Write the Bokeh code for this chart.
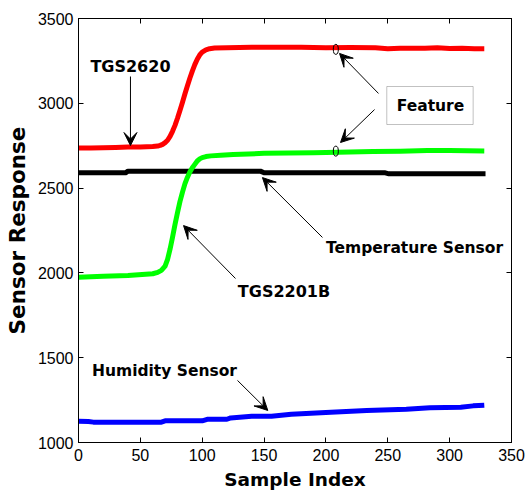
from bokeh.plotting import figure
from bokeh.models import Range1d, LinearAxis, Arrow, VeeHead, Label, BoxAnnotation, FixedTicker
from bokeh.embed import file_html
from bokeh.resources import INLINE

# ---------------- data ----------------
x_ticks = [0, 50, 100, 150, 200, 250, 300, 350]
y_ticks = [1000, 1500, 2000, 2500, 3000, 3500]

red_x = [0, 10, 20, 30, 40, 50, 60, 64, 66, 68, 70, 72, 74, 76, 78, 80, 82, 84, 86, 88,
         90, 92, 94, 96, 98, 100, 103, 106, 110, 120, 140, 160, 180, 200, 220, 240, 250,
         260, 280, 290, 300, 310, 320, 328]
red_y = [2737, 2737, 2738, 2740, 2742, 2743, 2745, 2748, 2752, 2758, 2768, 2782, 2805, 2835,
         2870, 2912, 2958, 3005, 3055, 3102, 3148, 3190, 3228, 3260, 3285, 3302, 3315, 3322,
         3326, 3328, 3330, 3331, 3330, 3328, 3329, 3328, 3322, 3325, 3325, 3327, 3323, 3324,
         3322, 3322]

green_x = [0, 20, 40, 60, 64, 67, 70, 72, 74, 76, 78, 80, 82, 84, 86, 88, 90, 92, 94, 96,
           98, 100, 103, 107, 115, 125, 150, 170, 190, 210, 238, 260, 282, 300, 328]
green_y = [1975, 1980, 1985, 1995, 2003, 2015, 2040, 2080, 2140, 2210, 2285, 2355, 2420, 2475,
           2525, 2563, 2595, 2620, 2640, 2660, 2672, 2680, 2686, 2690, 2694, 2698, 2705, 2707,
           2709, 2712, 2716, 2718, 2721, 2721, 2719]

black_x = [0, 38, 40, 147, 150, 248, 251, 329]
black_y = [2590, 2590, 2600, 2600, 2590, 2590, 2584, 2584]

blue_x = [0, 8, 12, 67, 70, 100, 104, 120, 123, 140, 156, 172, 204, 233, 265, 284, 309, 319, 328]
blue_y = [1126, 1124, 1120, 1120, 1128, 1128, 1137, 1137, 1145, 1155, 1155, 1167, 1179, 1189,
          1196, 1205, 1208, 1216, 1220]

feature_x = [208, 208]
feature_y = [3318, 2718]

# ---------------- figure ----------------
p = figure(width=526, height=493, output_backend="svg", toolbar_location=None,
           x_range=Range1d(0, 350), y_range=Range1d(1000, 3500),
           min_border_left=78, min_border_right=15, min_border_top=18, min_border_bottom=51)
p.xgrid.visible = False
p.ygrid.visible = False
p.outline_line_color = "black"
p.outline_line_alpha = 1.0
p.background_fill_color = "white"
p.border_fill_color = "white"

TICK_FONT = "Liberation Sans"
BOLD_FONT = "DejaVu Sans"

def style_axis(ax, ticks, labels=True):
    ax.ticker = FixedTicker(ticks=ticks)
    ax.major_tick_in = 5
    ax.major_tick_out = 0
    ax.minor_tick_in = 0
    ax.minor_tick_out = 0
    ax.axis_line_color = "black"
    ax.major_tick_line_color = "black"
    ax.major_label_text_font = TICK_FONT
    ax.major_label_text_color = "black"
    if labels:
        ax.major_label_text_font_size = "16px"
    else:
        ax.major_label_text_font_size = "1px"
        ax.major_label_text_alpha = 0
        ax.major_label_standoff = 0

bottom = p.below[0]
left = p.left[0]
style_axis(bottom, x_ticks)
style_axis(left, y_ticks)
bottom.major_label_standoff = 6
left.major_label_standoff = 5
bottom.axis_label = "Sample Index"
left.axis_label = "Sensor Response"
for ax, sz, so in ((bottom, "18.5px", 5), (left, "21.5px", 5)):
    ax.axis_label_text_font = BOLD_FONT
    ax.axis_label_text_font_style = "bold"
    ax.axis_label_text_font_size = sz
    ax.axis_label_text_color = "black"
    ax.axis_label_standoff = so

top_ax = LinearAxis()
right_ax = LinearAxis()
style_axis(top_ax, x_ticks, labels=False)
style_axis(right_ax, y_ticks, labels=False)
p.add_layout(top_ax, "above")
p.add_layout(right_ax, "right")

# ---------------- series ----------------
p.line(blue_x, blue_y, line_color="#0000ff", line_width=5, line_join="round")
p.line(black_x, black_y, line_color="black", line_width=5, line_join="round")
p.line(green_x, green_y, line_color="#00ff00", line_width=5, line_join="round")
p.line(red_x, red_y, line_color="#ff0000", line_width=5, line_join="round")
p.ellipse(x=feature_x, y=feature_y, width=5, height=10, width_units="screen",
          height_units="screen", fill_color=None, line_color="black", line_width=1)

# ---------------- annotations ----------------
def arrow(xs, ys, xe, ye):
    p.add_layout(Arrow(end=VeeHead(size=13, fill_color="black", line_color="black", line_width=1),
                       x_start=xs, y_start=ys, x_end=xe, y_end=ye,
                       line_color="black", line_width=1))

def label(x, y, text, size="15.5px"):
    p.add_layout(Label(x=x, y=y, text=text, text_align="center", text_baseline="middle",
                       text_font=BOLD_FONT, text_font_style="bold", text_font_size=size,
                       text_color="black"))

label(42, 3217, "TGS2620", "16px")
arrow(42, 3158, 42, 2751)

p.add_layout(BoxAnnotation(left=249.2, right=319, top=3099, bottom=2875,
                           fill_color="white", fill_alpha=1.0,
                           line_color="#333333", line_width=1))
label(284.5, 2987, "Feature", "15.5px")
arrow(242.5, 3058, 211, 3294)
arrow(239.3, 2963, 211.8, 2769)

label(271.6, 2144, "Temperature Sensor")
arrow(197.2, 2209, 148.7, 2562)

label(166.1, 1893, "TGS2201B", "16px")
arrow(126.9, 1967, 84.9, 2279)

label(69.5, 1419, "Humidity Sensor")
arrow(128.5, 1366, 153, 1189)

open("out.html", "w").write(file_html(p, INLINE))
